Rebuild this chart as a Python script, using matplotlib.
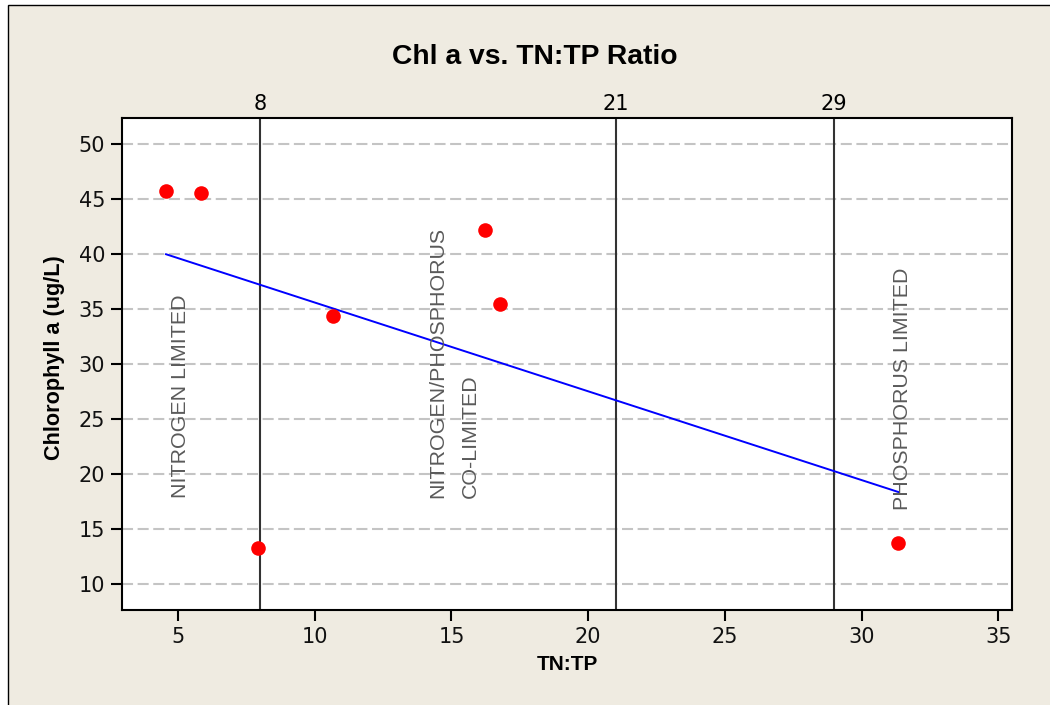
import numpy as np
import matplotlib
matplotlib.use("Agg")
import matplotlib.pyplot as plt
from matplotlib.patches import Rectangle

# ---- data ----
tn_tp = [4.56, 5.84, 7.93, 10.67, 16.23, 16.78, 31.34]
chl_a = [45.73, 45.55, 13.27, 34.36, 42.18, 35.45, 13.73]
thresholds = [8, 21, 29]
threshold_labels = ["8", "21", "29"]
xticks = [5, 10, 15, 20, 25, 30, 35]
yticks = [10, 15, 20, 25, 30, 35, 40, 45, 50]
region_labels = ["NITROGEN LIMITED", "NITROGEN/PHOSPHORUS", "CO-LIMITED", "PHOSPHORUS LIMITED"]
region_x = [5.1, 14.5, 15.7, 31.5]
region_y = [17.8, 17.8, 17.8, 16.7]

BEIGE = "#EFEBE1"
W, H = 1050, 705

fig = plt.figure(figsize=(W / 100, H / 100), dpi=100, facecolor="white")

# beige frame with black left/top borders
fig.patches.append(Rectangle((8 / W, -0.1), 1.2, 1 - 5 / H + 0.1, transform=fig.transFigure,
                             facecolor=BEIGE, edgecolor="black", linewidth=1.0, zorder=-5))

ax = fig.add_axes([122 / W, 1 - 610 / H, (1012 - 122) / W, (610 - 118) / H])
ax.set_zorder(1)
ax.set_facecolor("white")
ax.set_xlim(2.95, 35.5)
ax.set_ylim(7.64, 52.36)

# horizontal dashed grid
for yv in yticks:
    ax.axhline(yv, color="#C4C4C4", linewidth=1.5, linestyle=(0, (5.3, 2.2)), zorder=1)

# vertical threshold lines
for xv in thresholds:
    ax.axvline(xv, color="#333333", linewidth=1.5, zorder=2)

# regression line from data
coef = np.polyfit(tn_tp, chl_a, 1)
xs = np.array([min(tn_tp), max(tn_tp)])
ax.plot(xs, np.polyval(coef, xs), color="#0000FF", linewidth=1.4, zorder=3)

# points
ax.plot(tn_tp, chl_a, linestyle="none", marker="o", markersize=10.5,
        markerfacecolor="#FF0000", markeredgecolor="none", zorder=4)

# region annotations
for lab, xv, yv in zip(region_labels, region_x, region_y):
    ax.text(xv, yv, lab, rotation=90, rotation_mode="anchor", ha="left", va="center",
            fontsize=15.4, color="#5A5A5A", family="Liberation Sans", zorder=5)

# axes styling
for sp in ax.spines.values():
    sp.set_linewidth(1.5)
    sp.set_color("black")
    sp.set_zorder(6)

ax.set_xticks(xticks)
ax.set_yticks(yticks)
ax.tick_params(axis="both", direction="out", length=8, width=1.5, labelsize=15,
               pad=4, colors="black")
for lab in ax.get_xticklabels() + ax.get_yticklabels():
    lab.set_color("#111111")

top = ax.secondary_xaxis("top")
top.set_xticks(thresholds)
top.set_xticklabels(threshold_labels)
top.tick_params(axis="x", length=0, labelsize=15, pad=3)
top.spines["top"].set_visible(False)

ax.set_xlabel("TN:TP", fontsize=15, fontweight="bold", family="Liberation Sans", labelpad=6)
ax.set_ylabel("Chlorophyll a (ug/L)", fontsize=15.6, fontweight="bold",
              family="Liberation Sans")
ax.yaxis.set_label_coords(-0.0635, 0.513)

fig.text(534.5 / W, 1 - 57 / H, "Chl a vs. TN:TP Ratio", ha="center", va="center",
         fontsize=20.3, fontweight="bold", family="Liberation Sans")

fig.savefig("out.png", dpi=100, facecolor=fig.get_facecolor())
